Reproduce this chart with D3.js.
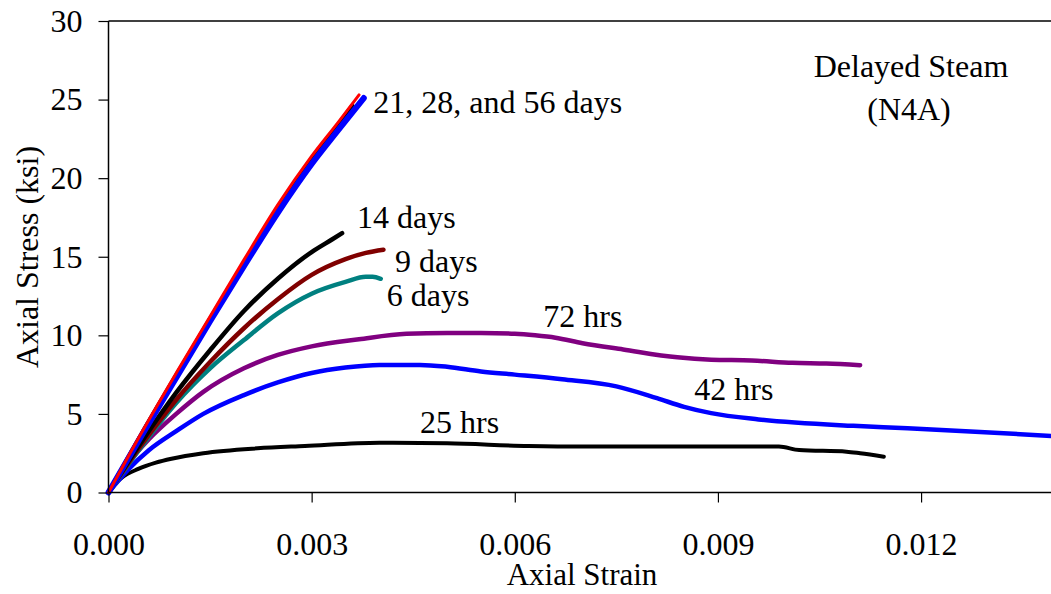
<!DOCTYPE html>
<html lang="en">
<head>
    <meta charset="UTF-8">
    <title>Axial stress vs strain - Delayed Steam (N4A)</title>
    <script src="https://d3js.org/d3.v7.min.js"></script>
    <style type="text/css">
        body {
            margin: 0;
            background: #fff;
        }

        svg text {
            font-family: "Liberation Serif", "Times New Roman", serif;
            fill: #000;
        }
    </style>
</head>
<body>
    <div id="chartArea"></div>
    <script type="text/javascript">
        // [strain, stress(ksi)]
        var age56 = [[0, 0], [0.0005, 3.7], [0.001, 7.3], [0.0015, 10.9], [0.002, 14.4], [0.0025, 17.8],
            [0.003, 20.9], [0.0034, 23.1], [0.00377, 25.1]];
        var age28 = [[0, 0], [0.0005, 3.8], [0.001, 7.45], [0.0015, 11.05], [0.002, 14.6], [0.0025, 18.05],
            [0.003, 21.1], [0.0036, 24.6]];
        var age21 = [[0, 0], [0.0005, 3.9], [0.001, 7.6], [0.0015, 11.2], [0.002, 14.8], [0.0025, 18.3],
            [0.003, 21.4], [0.0034, 23.6], [0.0037, 25.3]];
        var age14 = [[0, 0], [0.0005, 3.3], [0.001, 6.35], [0.0015, 9.05], [0.002, 11.55], [0.0025, 13.6],
            [0.003, 15.3], [0.0033, 16.1], [0.00345, 16.5]];
        var age9 = [[0, 0], [0.0005, 3.1], [0.001, 5.9], [0.0015, 8.3], [0.002, 10.45], [0.0025, 12.3],
            [0.003, 13.85], [0.0035, 14.85], [0.0038, 15.25], [0.00406, 15.45]];
        var age6 = [[0, 0], [0.0005, 3.0], [0.001, 5.7], [0.0015, 7.9], [0.002, 9.7], [0.0025, 11.4],
            [0.003, 12.65], [0.0035, 13.4], [0.0038, 13.72], [0.0039, 13.72], [0.00402, 13.6]];
        var age72h = [[0, 0], [0.0003, 1.9], [0.0006, 3.4], [0.001, 5.0], [0.0014, 6.4], [0.002, 7.9],
            [0.0025, 8.75], [0.003, 9.3], [0.0037, 9.75], [0.0044, 10.1], [0.005, 10.15], [0.0055, 10.15],
            [0.006, 10.1], [0.0063, 10.0], [0.0066, 9.85], [0.007, 9.5], [0.0076, 9.1], [0.0084, 8.6],
            [0.0089, 8.45], [0.0095, 8.4], [0.0101, 8.25], [0.0106, 8.2], [0.0111, 8.1]];
        var age42h = [[0, 0], [0.0003, 1.5], [0.0006, 2.7], [0.001, 3.9], [0.0014, 5.0], [0.002, 6.2],
            [0.0025, 7.0], [0.003, 7.6], [0.0035, 7.95], [0.004, 8.12], [0.0046, 8.12], [0.005, 8.0],
            [0.0055, 7.7], [0.006, 7.5], [0.0067, 7.2], [0.0075, 6.75], [0.0081, 6.0], [0.0085, 5.45],
            [0.0089, 5.05], [0.0096, 4.65], [0.011, 4.24], [0.0118, 4.09], [0.0128, 3.87], [0.014, 3.58]];
        var age25h = [[0, 0], [0.0001, 0.55], [0.0002, 0.95], [0.00044, 1.5], [0.0007, 1.9], [0.00093, 2.15],
            [0.0014, 2.5], [0.0022, 2.81], [0.0029, 2.96], [0.004, 3.17], [0.005, 3.13], [0.0062, 2.96],
            [0.007, 2.92], [0.0099, 2.92], [0.0102, 2.7], [0.0109, 2.6], [0.0111, 2.5], [0.01145, 2.28]];

        var xTicks = [0, 0.003, 0.006, 0.009, 0.012];
        var yTicks = [0, 5, 10, 15, 20, 25, 30];

        // drawing order: first is at the bottom
        var series = [
            { data: age25h, color: '#000000', width: 4 },
            { data: age42h, color: '#0000ff', width: 4.5 },
            { data: age72h, color: '#800080', width: 4.5 },
            { data: age6, color: '#008080', width: 4.5 },
            { data: age9, color: '#800000', width: 4.5 },
            { data: age14, color: '#000000', width: 4.5 },
            { data: age28, color: '#000000', width: 4.5 },
            { data: age56, color: '#0000ff', width: 6 },
            { data: age21, color: '#ff0000', width: 3 }
        ];

        var labels = [
            { text: '21, 28, and 56 days', x: 0.00391, y: 24.17 },
            { text: '14 days', x: 0.00367, y: 16.85 },
            { text: '9 days', x: 0.00423, y: 14.04 },
            { text: '6 days', x: 0.00411, y: 11.88 },
            { text: '72 hrs', x: 0.00642, y: 10.54 },
            { text: '42 hrs', x: 0.00865, y: 5.89 },
            { text: '25 hrs', x: 0.00460, y: 3.79 }
        ];

        var width = 1051, height = 594;
        var margin = { top: 21, left: 108.5, bottom: 101.5 };
        var fontSize = '32px';

        var svg = d3.select('#chartArea').append('svg')
            .attr('width', width)
            .attr('height', height);

        var xScale = d3.scaleLinear()
            .domain([0, 0.014])
            .range([margin.left, margin.left + 948]);

        var yScale = d3.scaleLinear()
            .domain([0, 30])
            .range([height - margin.bottom, margin.top]);

        var plot = svg.append('g');

        // top border
        plot.append('line')
            .attr('x1', margin.left).attr('x2', width)
            .attr('y1', yScale(30)).attr('y2', yScale(30))
            .attr('stroke', '#000').attr('stroke-width', 1.5);

        var line = d3.line()
            .x(function (d) { return xScale(d[0]); })
            .y(function (d) { return yScale(d[1]); })
            .curve(d3.curveMonotoneX);

        plot.selectAll('path.series')
            .data(series)
            .enter()
            .append('path')
            .attr('class', 'series')
            .attr('d', function (d) { return line(d.data); })
            .attr('fill', 'none')
            .attr('stroke', function (d) { return d.color; })
            .attr('stroke-width', function (d) { return d.width; })
            .attr('stroke-linecap', 'round')
            .attr('stroke-linejoin', 'round');

        var xAxis = svg.append('g')
            .attr('transform', 'translate(0,' + yScale(0) + ')')
            .call(d3.axisBottom(xScale).tickValues(xTicks).tickFormat(d3.format('.3f'))
                .tickSize(10).tickPadding(30));

        var yAxis = svg.append('g')
            .attr('transform', 'translate(' + margin.left + ',0)')
            .call(d3.axisLeft(yScale).tickValues(yTicks).tickSize(10).tickPadding(16));

        [xAxis, yAxis].forEach(function (ax) {
            ax.select('.domain').attr('stroke', '#000').attr('stroke-width', 1.5);
            ax.selectAll('.tick line').attr('stroke', '#000').attr('stroke-width', 1.2);
            ax.selectAll('.tick text')
                .style('font-family', '"Liberation Serif", "Times New Roman", serif')
                .style('font-size', fontSize)
                .attr('fill', '#000');
        });
        xAxis.select('.domain').attr('d', 'M' + margin.left + ',0H' + width);
        yAxis.select('.domain').attr('d', 'M0,' + yScale(0) + 'V' + yScale(30));

        svg.selectAll('text.curveLabel')
            .data(labels)
            .enter()
            .append('text')
            .attr('class', 'curveLabel')
            .attr('x', function (d) { return xScale(d.x); })
            .attr('y', function (d) { return yScale(d.y); })
            .style('font-size', fontSize)
            .text(function (d) { return d.text; });

        svg.append('text')
            .attr('x', 911).attr('y', 77)
            .attr('text-anchor', 'middle')
            .style('font-size', fontSize)
            .text('Delayed Steam');
        svg.append('text')
            .attr('x', 909).attr('y', 120)
            .attr('text-anchor', 'middle')
            .style('font-size', fontSize)
            .text('(N4A)');

        svg.append('text')
            .attr('x', 582).attr('y', 585)
            .attr('text-anchor', 'middle')
            .style('font-size', '31px')
            .text('Axial Strain');

        svg.append('text')
            .attr('transform', 'translate(38,257) rotate(-90)')
            .attr('text-anchor', 'middle')
            .style('font-size', fontSize)
            .text('Axial Stress (ksi)');
    </script>
</body>
</html>
